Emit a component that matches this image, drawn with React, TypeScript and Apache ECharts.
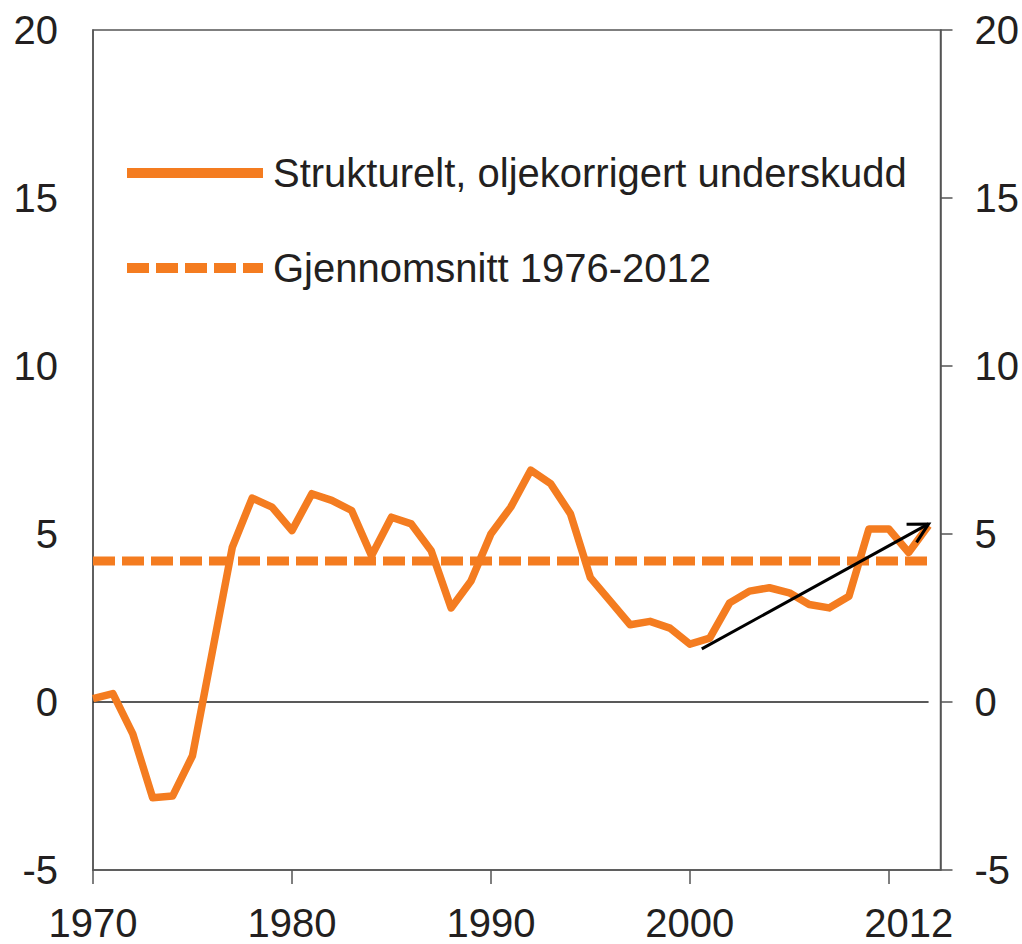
import React, { useEffect, useRef } from "react";
import * as echarts from "echarts";

const years = [
  1970, 1971, 1972, 1973, 1974, 1975, 1976, 1977, 1978, 1979,
  1980, 1981, 1982, 1983, 1984, 1985, 1986, 1987, 1988, 1989,
  1990, 1991, 1992, 1993, 1994, 1995, 1996, 1997, 1998, 1999,
  2000, 2001, 2002, 2003, 2004, 2005, 2006, 2007, 2008, 2009,
  2010, 2011, 2012,
];
const deficit = [
  0.1, 0.25, -0.95, -2.85, -2.8, -1.6, 1.5, 4.6, 6.07, 5.8,
  5.1, 6.2, 6.0, 5.7, 4.35, 5.5, 5.3, 4.5, 2.8, 3.6,
  5.0, 5.8, 6.9, 6.5, 5.6, 3.7, 3.0, 2.3, 2.4, 2.2,
  1.72, 1.9, 2.95, 3.3, 3.4, 3.25, 2.9, 2.8, 3.15, 5.15,
  5.15, 4.45, 5.25,
];
const averageValue = 4.2;
const averageSpan = [1970, 2012];
const zeroSpan = [1970, 2012];
const seriesNames = ["Strukturelt, oljekorrigert underskudd", "Gjennomsnitt 1976-2012"];
const xTickValues = [1970, 1980, 1990, 2000, 2010];
const xLabelValues = [1970, 1980, 1990, 2000, 2011];
const xLabelTexts = ["1970", "1980", "1990", "2000", "2012"];
const yMin = -5;
const yMax = 20;
const yInterval = 5;
const xMin = 1970;
const xMax = 2012.6;
const arrowStart = [2000.6, 1.58];
const arrowEnd = [2012, 5.3];

const ORANGE = "#F47C20";
const TEXT = "#231f20";
const AXIS = "#555555";
const FONT = "'Liberation Sans', Arial, sans-serif";

export default function App() {
  const ref = useRef<HTMLDivElement>(null);
  useEffect(() => {
    if (!ref.current) return;
    const chart = echarts.init(ref.current, null, { renderer: "svg" });
    const mainData = years.map((y, i) => [y, deficit[i]]);
    const avgData = averageSpan.map((x) => [x, averageValue]);
    const zeroData = zeroSpan.map((x) => [x, 0]);
    chart.setOption({
      animation: false,
      backgroundColor: "#ffffff",
      textStyle: { fontFamily: FONT },
      grid: {
        left: 93,
        right: 81,
        top: 30,
        bottom: 74,
        show: true,
        borderColor: AXIS,
        borderWidth: 1.5,
        backgroundColor: "transparent",
      },
      legend: {
        orient: "vertical",
        left: 117,
        top: 148,
        itemWidth: 136,
        itemHeight: 12,
        itemGap: 55,
        textStyle: {
          fontFamily: FONT,
          fontSize: 40,
          color: TEXT,
          lineHeight: 40,
          padding: [0, 0, 0, 5],
        },
        data: [
          { name: seriesNames[0], lineStyle: { width: 10 } },
          { name: seriesNames[1], lineStyle: { width: 10 } },
        ],
        selectedMode: false,
      },
      xAxis: {
        type: "value",
        min: xMin,
        max: xMax,
        interval: 10,
        axisLine: { show: true, onZero: false, lineStyle: { color: AXIS, width: 1.5 } },
        axisTick: {
          show: true,
          length: 14,
          customValues: xTickValues,
          lineStyle: { color: AXIS, width: 1.5 },
        },
        axisLabel: {
          customValues: xLabelValues,
          formatter: (v: number) => {
            const idx = xLabelValues.indexOf(Math.round(v));
            return idx >= 0 ? xLabelTexts[idx] : "";
          },
          fontSize: 40,
          color: TEXT,
          fontFamily: FONT,
          margin: 33,
        },
        splitLine: { show: false },
      },
      yAxis: [
        {
          type: "value",
          min: yMin,
          max: yMax,
          interval: yInterval,
          position: "left",
          axisLine: { show: true, lineStyle: { color: AXIS, width: 1.5 } },
          axisTick: { show: false },
          axisLabel: { fontSize: 40, color: TEXT, fontFamily: FONT, margin: 35 },
          splitLine: { show: false },
        },
        {
          type: "value",
          min: yMin,
          max: yMax,
          interval: yInterval,
          position: "right",
          axisLine: { show: true, lineStyle: { color: AXIS, width: 1.5 } },
          axisTick: { show: true, inside: false, length: 12, lineStyle: { color: AXIS, width: 1.5 } },
          axisLabel: { fontSize: 40, color: TEXT, fontFamily: FONT, margin: 34 },
          splitLine: { show: false },
        },
      ],
      series: [
        {
          name: "zero",
          type: "line",
          data: zeroData,
          symbol: "none",
          silent: true,
          lineStyle: { color: "#222222", width: 1.5 },
          z: 1,
        },
        {
          name: seriesNames[1],
          type: "line",
          data: avgData,
          symbol: "none",
          color: ORANGE,
          lineStyle: { color: ORANGE, width: 9, type: [22, 7], cap: "butt" },
          z: 2,
        },
        {
          name: seriesNames[0],
          type: "line",
          data: mainData,
          symbol: "none",
          color: ORANGE,
          lineStyle: { color: ORANGE, width: 7.5, join: "round" },
          z: 3,
        },
      ],
    });

    // Arrow annotation drawn from data coordinates converted to pixels
    const p0 = chart.convertToPixel({ xAxisIndex: 0, yAxisIndex: 0 }, arrowStart) as number[];
    const p1 = chart.convertToPixel({ xAxisIndex: 0, yAxisIndex: 0 }, arrowEnd) as number[];
    if (p0 && p1) {
      const dx = p1[0] - p0[0];
      const dy = p1[1] - p0[1];
      const len = Math.sqrt(dx * dx + dy * dy);
      const ux = -dx / len;
      const uy = -dy / len;
      const armLen = 22;
      const ang = (28 * Math.PI) / 180;
      const rot = (a: number) => [
        ux * Math.cos(a) - uy * Math.sin(a),
        ux * Math.sin(a) + uy * Math.cos(a),
      ];
      const a1 = rot(ang);
      const a2 = rot(-ang);
      chart.setOption({
        graphic: [
          {
            type: "line",
            silent: true,
            z: 10,
            shape: { x1: p0[0], y1: p0[1], x2: p1[0], y2: p1[1] },
            style: { stroke: "#000000", lineWidth: 3 },
          },
          {
            type: "polyline",
            silent: true,
            z: 10,
            shape: {
              points: [
                [p1[0] + a1[0] * armLen, p1[1] + a1[1] * armLen],
                [p1[0], p1[1]],
                [p1[0] + a2[0] * armLen, p1[1] + a2[1] * armLen],
              ],
            },
            style: { stroke: "#000000", lineWidth: 3, fill: null },
          },
        ],
      });
    }
    return () => chart.dispose();
  }, []);
  return (
    <div
      ref={ref}
      style={{ position: "fixed", left: 0, top: 0, width: 1022, height: 944, background: "#fff" }}
    />
  );
}
